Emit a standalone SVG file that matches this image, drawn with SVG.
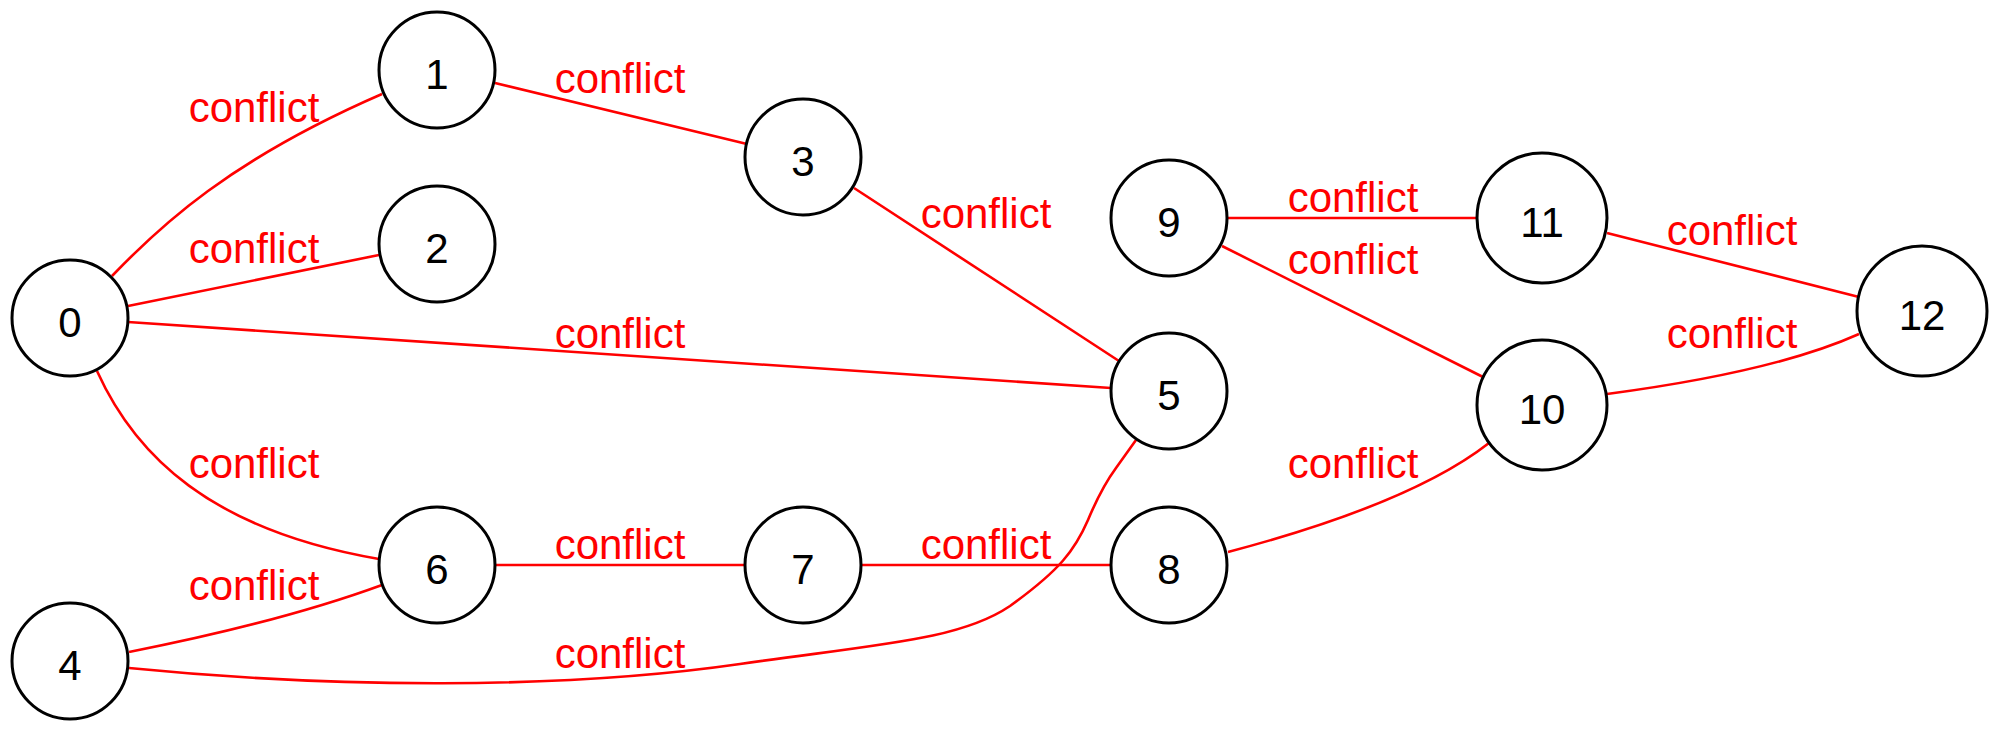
<svg xmlns="http://www.w3.org/2000/svg" width="2000" height="732" viewBox="0 0 2000 732">
<style>
.node circle{fill:#fff;stroke:#000;stroke-width:3}
.node text{font-family:"Liberation Sans",Arial,Helvetica,sans-serif;font-size:42px;fill:#000;text-anchor:middle}
.edge path{fill:none;stroke:#ff0000;stroke-width:2.6}
.lbl{font-family:"Liberation Sans",Arial,Helvetica,sans-serif;font-size:42px;fill:#ff0000;text-anchor:middle}
</style>
<rect width="2000" height="732" fill="#fff"/>
<g id="connectors">
<g class="edge" id="e0-1"><path d="M112,276 C160,226 230,160 382,94"/><text class="lbl" x="254" y="122">conflict</text></g>
<g class="edge" id="e0-2"><path d="M128,306 L379,255"/><text class="lbl" x="254" y="263">conflict</text></g>
<g class="edge" id="e0-5"><path d="M128,322 L1111,388"/><text class="lbl" x="620" y="348">conflict</text></g>
<g class="edge" id="e0-6"><path d="M97,371 C135,455 210,530 379,559"/><text class="lbl" x="254" y="478">conflict</text></g>
<g class="edge" id="e1-3"><path d="M495,83 L747,144"/><text class="lbl" x="620" y="93">conflict</text></g>
<g class="edge" id="e3-5"><path d="M854,188 L1119,361"/><text class="lbl" x="986" y="228">conflict</text></g>
<g class="edge" id="e4-6"><path d="M129,652 C200,638 300,615 382,585"/><text class="lbl" x="254" y="600">conflict</text></g>
<g class="edge" id="e4-5"><path d="M129,668 C330,688 560,690 740,664 C880,644 960,640 1010,606 C1060,570 1075,550 1088,520 C1098,496 1105,483 1116,468 L1136,440"/><text class="lbl" x="620" y="668">conflict</text></g>
<g class="edge" id="e6-7"><path d="M495,565 L745,565"/><text class="lbl" x="620" y="559">conflict</text></g>
<g class="edge" id="e7-8"><path d="M861,565 L1111,565"/><text class="lbl" x="986" y="559">conflict</text></g>
<g class="edge" id="e9-11"><path d="M1227,218 L1477,218"/><text class="lbl" x="1353" y="212">conflict</text></g>
<g class="edge" id="e9-10"><path d="M1222,246 L1483,377"/><text class="lbl" x="1353" y="274">conflict</text></g>
<g class="edge" id="e8-10"><path d="M1228,552 C1300,533 1420,497 1489,443"/><text class="lbl" x="1353" y="478">conflict</text></g>
<g class="edge" id="e11-12"><path d="M1607,233 L1859,297"/><text class="lbl" x="1732" y="245">conflict</text></g>
<g class="edge" id="e10-12"><path d="M1607,394 C1690,383 1790,365 1859,334"/><text class="lbl" x="1732" y="348">conflict</text></g>
</g>
<g class="node" id="n0"><circle cx="70" cy="318" r="58"/><text x="70" y="337">0</text></g>
<g class="node" id="n1"><circle cx="437" cy="70" r="58"/><text x="437" y="89">1</text></g>
<g class="node" id="n2"><circle cx="437" cy="244" r="58"/><text x="437" y="263">2</text></g>
<g class="node" id="n3"><circle cx="803" cy="157" r="58"/><text x="803" y="176">3</text></g>
<g class="node" id="n4"><circle cx="70" cy="661" r="58"/><text x="70" y="680">4</text></g>
<g class="node" id="n5"><circle cx="1169" cy="391" r="58"/><text x="1169" y="410">5</text></g>
<g class="node" id="n6"><circle cx="437" cy="565" r="58"/><text x="437" y="584">6</text></g>
<g class="node" id="n7"><circle cx="803" cy="565" r="58"/><text x="803" y="584">7</text></g>
<g class="node" id="n8"><circle cx="1169" cy="565" r="58"/><text x="1169" y="584">8</text></g>
<g class="node" id="n9"><circle cx="1169" cy="218" r="58"/><text x="1169" y="237">9</text></g>
<g class="node" id="n10"><circle cx="1542" cy="405" r="65"/><text x="1542" y="424">10</text></g>
<g class="node" id="n11"><circle cx="1542" cy="218" r="65"/><text x="1542" y="237">11</text></g>
<g class="node" id="n12"><circle cx="1922" cy="311" r="65"/><text x="1922" y="330">12</text></g>
</svg>
